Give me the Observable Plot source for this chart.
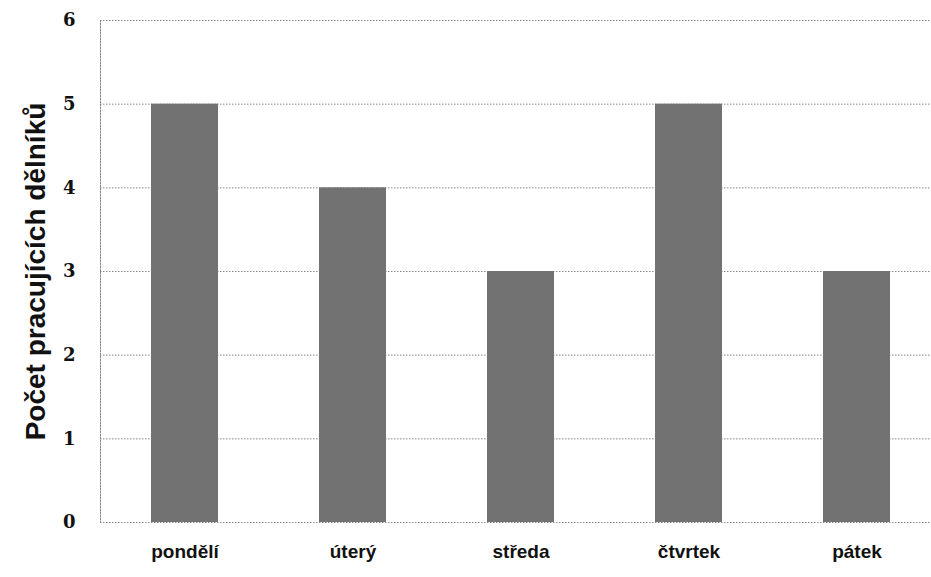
<!DOCTYPE html>
<html>
<head>
<meta charset="utf-8">
<script src="https://cdn.jsdelivr.net/npm/d3@7"></script>
<script src="https://cdn.jsdelivr.net/npm/@observablehq/plot@0.6"></script>
<style>
  html, body { margin: 0; padding: 0; background: #fff; overflow: hidden; }
  #chart svg { display: block; }
</style>
</head>
<body>
<div id="chart"></div>
<script>
const days = ["pondělí", "úterý", "středa", "čtvrtek", "pátek"];
const workers = [5, 4, 3, 5, 3];
const yTicks = [0, 1, 2, 3, 4, 5, 6];
const yLabel = "Počet pracujících dělníků";

const data = days.map((d, i) => ({day: d, value: workers[i]}));

const chart = Plot.plot({
  width: 931,
  height: 577,
  marginLeft: 100,
  marginRight: -11,
  marginTop: 20,
  marginBottom: 55,
  style: {background: "#fff", color: "#111"},
  x: {domain: days, paddingInner: 0.6, paddingOuter: 0.3, label: null},
  y: {domain: [0, 6], label: null},
  marks: [
    Plot.ruleY(yTicks, {stroke: "#888", strokeWidth: 1, strokeDasharray: "1.5,1.5"}),
    Plot.frame({anchor: "left", stroke: "#888", strokeDasharray: "1.5,1.5"}),
    Plot.barY(data, {x: "day", y: "value", fill: "#727272"}),
    Plot.axisY(yTicks, {tickSize: 0, tickPadding: 25, tickFormat: d3.format("d"), fontSize: 18, fontWeight: "bold", fontFamily: "DejaVu Serif", label: null}),
    Plot.axisX({tickSize: 0, tickPadding: 22, fontSize: 19, fontWeight: "bold", fontFamily: "Liberation Sans", label: null}),
    Plot.text([yLabel], {frameAnchor: "left", textAnchor: "middle", dx: -64, rotate: -90, fontSize: 28, fontWeight: "bold", fontFamily: "Liberation Sans", fill: "#111"})
  ]
});
document.getElementById("chart").append(chart);
</script>
</body>
</html>
